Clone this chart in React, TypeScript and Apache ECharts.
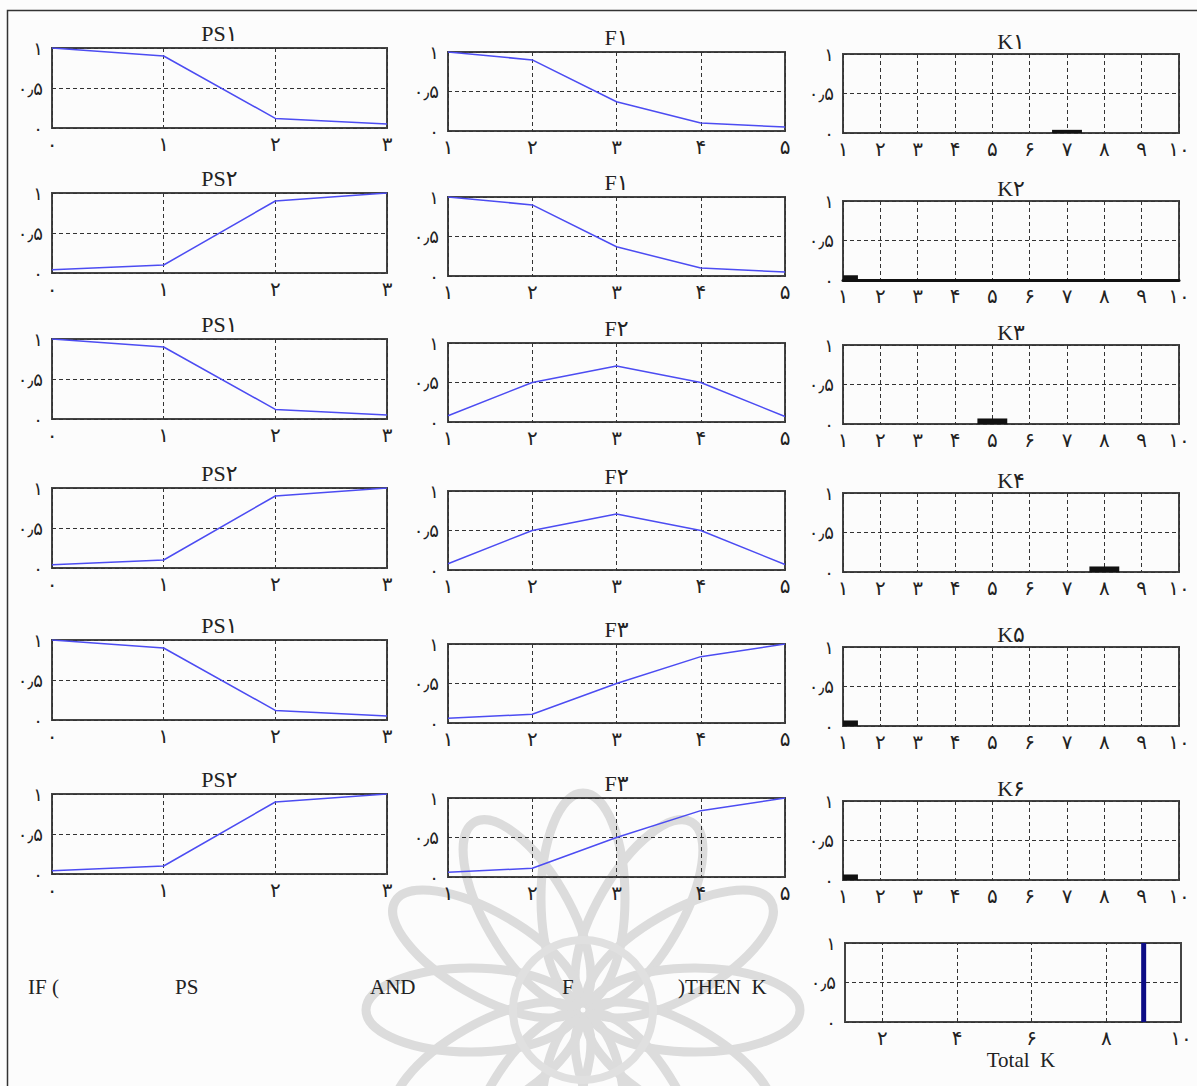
import React, { useEffect, useRef } from "react";
import * as echarts from "echarts";

// ---------- data ----------
const FA_DIGITS = ["۰", "۱", "۲", "۳", "۴", "۵", "۶", "۷", "۸", "۹"];
const psX = [0, 1, 2, 3];
const ps1 = [1, 0.9, 0.12, 0.05];
const ps2 = [0.04, 0.1, 0.9, 1];
const fX = [1, 2, 3, 4, 5];
const f1 = [1, 0.9, 0.37, 0.1, 0.05];
const f2 = [0.08, 0.5, 0.71, 0.5, 0.07];
const f3 = [0.06, 0.11, 0.5, 0.84, 1];
const psTitles = ["PS۱", "PS۲", "PS۱", "PS۲", "PS۱", "PS۲"];
const fTitles = ["F۱", "F۱", "F۲", "F۲", "F۳", "F۳"];
const kTitles = ["K۱", "K۲", "K۳", "K۴", "K۵", "K۶"];
const psRows = [ps1, ps2, ps1, ps2, ps1, ps2];
const fRows = [f1, f1, f2, f2, f3, f3];
const kBarPos = [7, 1, 5, 8, 1, 1];
const kBarVal = [0.04, 0.06, 0.07, 0.07, 0.07, 0.07];
const kBarHalfWidth = 0.4;
const totalKPos = [9];
const totalKVal = [1];
const totalKGrid = [2, 4, 6, 8];
const ruleWords = ["IF (", "PS", "AND", "F", ")THEN  K"];

// ---------- layout ----------
const colLeft = [52, 448, 843];
const colWidth = [335, 337, 336];
const colTops = [
  [48, 193, 339, 488, 640, 794],
  [52, 197, 343, 491, 644, 798],
  [54, 201, 345, 493, 647, 801],
];
const colHeight = [80, 79, 79];
const titleGap = [15, 15, 13];
const ruleX = [28, 175, 370, 562, 678];

const fa = (v: number): string => {
  if (v === 0.5) return "۰٫۵";
  return String(v)
    .split("")
    .map((c) => (c === "." ? "٫" : FA_DIGITS[+c]))
    .join("");
};

const LABEL_FONT = "DejaVu Sans";
const SERIF = '"Liberation Serif", "DejaVu Serif", "DejaVu Sans", serif';
const GRID_LINE = { color: "#333", width: 1, type: [4, 3] as any };

function App() {
  const ref = useRef<HTMLDivElement>(null);
  useEffect(() => {
    document.body.style.margin = "0";
    document.body.style.overflow = "hidden";
    const chart = echarts.init(ref.current!, null, { renderer: "svg" });

    const grids: any[] = [];
    const xAxes: any[] = [];
    const yAxes: any[] = [];
    const series: any[] = [];
    const graphics: any[] = [];

    const addPanel = (
      left: number,
      top: number,
      width: number,
      height: number,
      xmin: number,
      xmax: number,
      opts: any = {}
    ) => {
      const idx = grids.length;
      grids.push({
        left,
        top,
        width,
        height,
        show: true,
        borderColor: "#444",
        borderWidth: 2,
        backgroundColor: "transparent",
        containLabel: false,
      });
      xAxes.push({
        type: "value",
        gridIndex: idx,
        min: xmin,
        max: xmax,
        interval: 1,
        axisLine: opts.axisLine || { show: false },
        axisTick: { show: false },
        splitLine: { show: opts.xSplit !== false, lineStyle: GRID_LINE },
        axisLabel: {
          show: true,
          margin: 6,
          fontFamily: LABEL_FONT,
          fontSize: 20,
          color: "#222",
          showMinLabel: true,
          showMaxLabel: true,
          formatter: opts.xFormatter || ((v: number) => fa(v)),
        },
      });
      yAxes.push({
        type: "value",
        gridIndex: idx,
        min: 0,
        max: 1,
        interval: 0.5,
        axisLine: { show: false },
        axisTick: { show: false },
        splitLine: { show: true, lineStyle: GRID_LINE },
        axisLabel: {
          show: true,
          margin: 9,
          fontFamily: LABEL_FONT,
          fontSize: 18,
          color: "#222",
          formatter: (v: number) => fa(v),
        },
      });
      return idx;
    };

    const addTitle = (text: string, x: number, y: number) => {
      graphics.push({
        type: "text",
        x,
        y,
        z: 10,
        style: {
          text,
          font: `22px ${SERIF}`,
          fill: "#222",
          textAlign: "center",
          textVerticalAlign: "middle",
        },
      });
    };

    // bar drawn through the axis scales, clipped to the plot area
    const barRender = (half: number, color: string) => (params: any, api: any) => {
      const x = api.value(0);
      const v = api.value(1);
      const p0 = api.coord([x - half, 0]);
      const p1 = api.coord([x + half, v]);
      const cs = params.coordSys;
      const rect = echarts.graphic.clipRectByRect(
        { x: p0[0], y: p1[1], width: p1[0] - p0[0], height: p0[1] - p1[1] },
        { x: cs.x, y: cs.y, width: cs.width, height: cs.height }
      );
      if (!rect) return null;
      return { type: "rect", shape: rect, style: { fill: color } };
    };

    for (let r = 0; r < 6; r++) {
      // PS column
      const i0 = addPanel(colLeft[0], colTops[0][r], colWidth[0], colHeight[0], 0, 3);
      series.push({
        type: "line",
        xAxisIndex: i0,
        yAxisIndex: i0,
        symbol: "none",
        lineStyle: { color: "#4c4cf2", width: 1.5 },
        data: psX.map((x, k) => [x, psRows[r][k]]),
      });
      addTitle(psTitles[r], colLeft[0] + colWidth[0] / 2, colTops[0][r] - titleGap[0]);

      // F column
      const i1 = addPanel(colLeft[1], colTops[1][r], colWidth[1], colHeight[1], 1, 5);
      series.push({
        type: "line",
        xAxisIndex: i1,
        yAxisIndex: i1,
        symbol: "none",
        lineStyle: { color: "#4c4cf2", width: 1.5 },
        data: fX.map((x, k) => [x, fRows[r][k]]),
      });
      addTitle(fTitles[r], colLeft[1] + colWidth[1] / 2, colTops[1][r] - titleGap[1]);

      // K column
      const i2 = addPanel(colLeft[2], colTops[2][r], colWidth[2], colHeight[2], 1, 10, {
        axisLine:
          r === 1
            ? { show: true, onZero: false, lineStyle: { color: "#111", width: 3 } }
            : { show: false },
      });
      series.push({
        type: "custom",
        xAxisIndex: i2,
        yAxisIndex: i2,
        renderItem: barRender(kBarHalfWidth, "#111"),
        data: [[kBarPos[r], kBarVal[r]]],
      });
      addTitle(kTitles[r], colLeft[2] + colWidth[2] / 2, colTops[2][r] - titleGap[2]);
    }

    // Total K
    const it = addPanel(845, 943, 336, 79, 1, 10, {
      xSplit: false,
      xFormatter: (v: number) => (v % 2 === 0 ? fa(v) : ""),
    });
    series.push({
      type: "bar",
      xAxisIndex: it,
      yAxisIndex: it,
      barWidth: 5,
      itemStyle: { color: "#0c0c85" },
      data: totalKPos.map((p, k) => [p, totalKVal[k]]),
      markLine: {
        silent: true,
        symbol: "none",
        label: { show: false },
        lineStyle: { color: "#333", width: 1, type: [4, 3] },
        data: totalKGrid.map((v) => ({ xAxis: v })),
      },
    });
    graphics.push({
      type: "text",
      x: 1021,
      y: 1060,
      style: {
        text: "Total  K",
        font: `21px ${SERIF}`,
        fill: "#222",
        textAlign: "center",
        textVerticalAlign: "middle",
      },
    });

    // rule text
    ruleWords.forEach((w, k) => {
      graphics.push({
        type: "text",
        x: ruleX[k],
        y: 987,
        z: 10,
        style: {
          text: w,
          font: `21px ${SERIF}`,
          fill: "#222",
          textAlign: "left",
          textVerticalAlign: "middle",
        },
      });
    });

    // outer frame
    graphics.push({
      type: "rect",
      z: -5,
      shape: { x: 7.5, y: 10.5, width: 1200, height: 1100 },
      style: { fill: "none", stroke: "#333", lineWidth: 1.5 },
    });

    // watermark rosette
    const cx = 583;
    const cy = 1010;
    for (let k = 0; k < 12; k++) {
      const a = (k * Math.PI) / 6;
      graphics.push({
        type: "ellipse",
        z: -20,
        silent: true,
        x: cx + 112 * Math.sin(a),
        y: cy - 112 * Math.cos(a),
        rotation: -a,
        shape: { cx: 0, cy: 0, rx: 42, ry: 105 },
        style: { fill: "none", stroke: "#dcdcdc", lineWidth: 9 },
      });
    }
    graphics.push({
      type: "circle",
      z: -20,
      silent: true,
      shape: { cx, cy, r: 70 },
      style: { fill: "none", stroke: "#e0e0e0", lineWidth: 8 },
    });

    chart.setOption({
      animation: false,
      backgroundColor: "#fcfcfc",
      grid: grids,
      xAxis: xAxes,
      yAxis: yAxes,
      series,
      graphic: graphics,
    });
    return () => chart.dispose();
  }, []);
  return <div ref={ref} style={{ width: 1197, height: 1086 }} />;
}

export default App;
